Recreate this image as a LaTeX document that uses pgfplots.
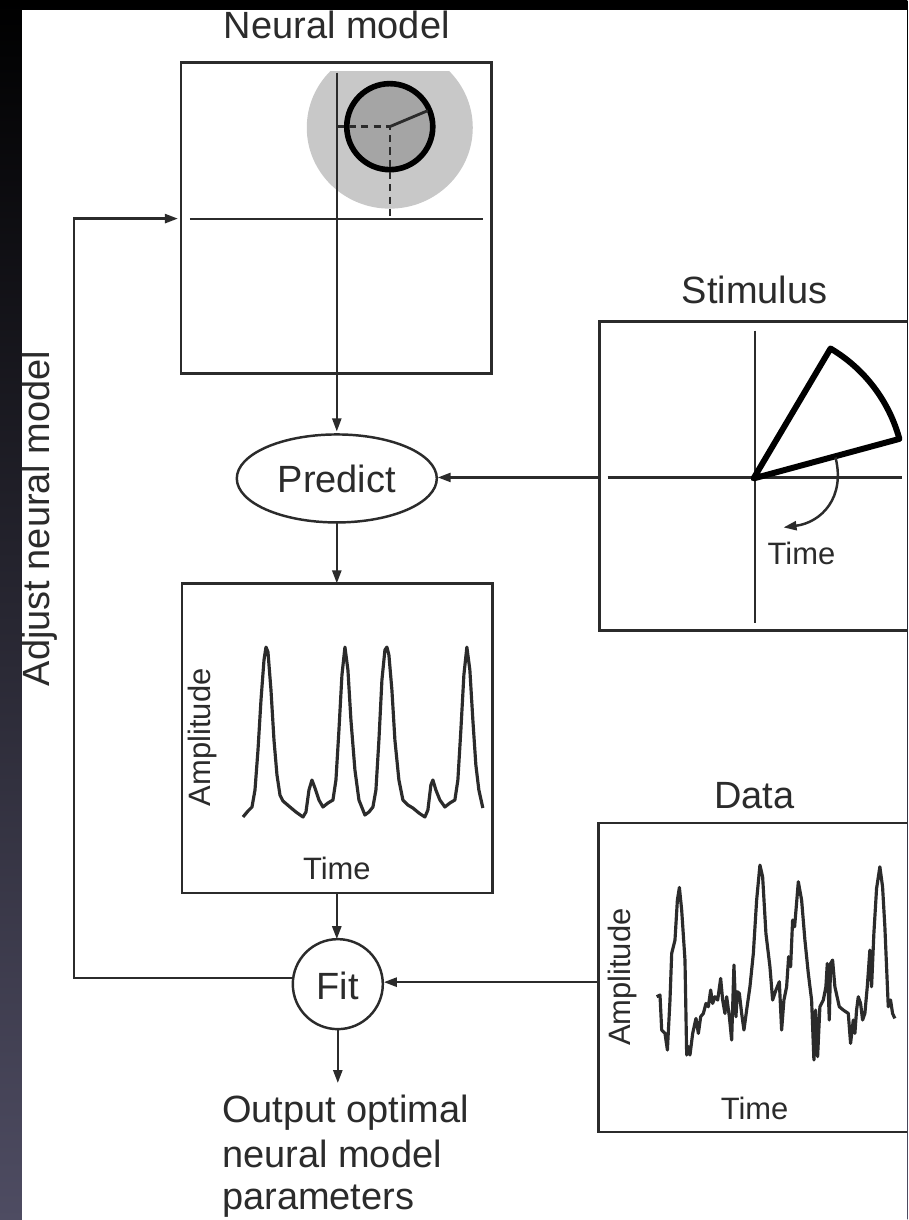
\documentclass[border=0pt]{standalone}
\usepackage{fontspec}
\setmainfont{Liberation Sans}
\usepackage{pgfplots}
\usepackage{pgfplotstable}
\pgfplotsset{compat=1.18}
\usetikzlibrary{arrows.meta}
\definecolor{ink}{HTML}{2B2B2B}
\definecolor{lightg}{HTML}{C8C8C8}
\definecolor{midg}{HTML}{A5A5A5}
\definecolor{bgtop}{HTML}{000000}
\definecolor{bgmid}{HTML}{141430}
\definecolor{bgbot}{HTML}{4E4C62}
\newcommand\bigf{\fontsize{10.8}{13}\selectfont}
\newcommand\smallf{\fontsize{8.8}{10.5}\selectfont}

% model prediction (time, amplitude)
\pgfplotstableread{
t a
0 0
5 6
9 10
12 27
15 67
18 117
21 157
23 170
25 165
28 127
31 77
34 42
37 22
40 16
47 10
53 5
60 0
63 5
66 27
69 37
72 29
76 17
80 10
85 14
90 17
93 37
96 87
99 142
102 170
105 147
108 97
112 47
116 17
122 2
126 5
130 10
133 27
136 77
139 137
142 167
144 170
146 162
149 127
152 77
156 37
160 17
165 12
170 9
176 4
182 0
185 7
188 32
190 37
193 27
197 17
202 10
207 14
212 17
215 37
218 87
221 142
224 170
227 147
230 97
233 52
236 27
240 9
}\modeldata

% measured data (time, amplitude)
\pgfplotstableread{
t a
0 70
3.3 71.7
5 36.7
8.3 33.3
10.7 16.7
13.3 66.7
15 113.3
18.3 126.7
20.7 166.7
22.7 179.3
25 156.7
28.3 106.7
30 11.7
32 20
33.3 11.7
36 33.3
39.3 48.3
41.7 33.3
44 50
46.7 53.3
49.3 63.3
51.7 60
54 76.7
56 63.3
58.3 70
61 66.7
64 88.3
66 66.7
68.3 53.3
70 70
72.7 50
75 26.7
77.3 101.7
79.3 50
80.7 75
82.7 73.3
85 53.3
87.3 36.7
90 56.7
93.3 80
96.7 113.3
100 166.7
103.3 201.7
106 190
109.3 133.3
113.3 100
116 66.7
119.3 76.7
122.7 85
125 36.7
127.3 66.7
130 80
132 110
134 100
136 146.7
138 140
141.7 185
145 166.7
148.3 126.7
151.7 93.3
155 66.7
157.3 6.7
159 56.7
161 10
163.3 60
166.7 66.7
169.3 80
170.7 103.3
172.7 46.7
174 103.3
176 106.7
178.3 80
182.7 60
186.7 56.7
191.7 53.3
194 23.3
196.7 46.7
198.3 33.3
200 56.7
201.7 70
204 63.3
206 46.7
208.3 53.3
210.7 80
213.3 116.7
215 80
217.3 133.3
220 178.3
223.3 200
226 180
228.3 140
231.7 60
234 66.7
236 53.3
238.3 48.3
}\measdata

\begin{document}
\begin{tikzpicture}[>={Triangle[length=0.13cm,width=0.09cm]}]
\begin{axis}[at={(0,0)}, anchor=south west, x=0.01cm, y=0.01cm, y dir=reverse,
  xmin=0, xmax=908, ymin=0, ymax=1220, hide axis, clip=true]
  % background
  \shade[top color=bgtop, middle color=bgmid, bottom color=bgbot] (0,0) rectangle (908,1220);
  \fill[white] (22,9) rectangle (908,1220);

  % Neural model
  \node[font=\bigf, text=ink, anchor=base] at (337,38) {Neural model};
  \begin{scope}
    \clip (183,71) rectangle (490,371);
    \fill[lightg] (390,127) ellipse [x radius=0.83cm, y radius=0.81cm];
  \end{scope}
  \draw[ink, line width=0.7pt] (181,62) rectangle (492,373);
  \draw[ink, line width=0.6pt] (190,218) -- (483,218);
  \draw[ink, line width=0.6pt, ->] (337,72) -- (337,431);
  \draw[black, line width=1.6pt, fill=midg] (390,126) circle [radius=0.43cm];
  \draw[ink, line width=0.7pt, dash pattern=on 2pt off 1.5pt] (337,126) -- (390,126) -- (390,218);
  \draw[ink, line width=0.8pt] (390,126) -- (428,110);

  % feedback loop
  \draw[ink, line width=0.7pt, ->] (293,978) -- (74,978) -- (74,218) -- (178,218);
  \node[font=\bigf, text=ink, rotate=90] at (40,518) {Adjust neural model};

  % Predict
  \draw[ink, line width=0.7pt] (337,478) ellipse [x radius=1.0cm, y radius=0.44cm];
  \node[font=\bigf, text=ink] at (337,478) {Predict};
  \draw[ink, line width=0.7pt, ->] (599,477) -- (438,477);
  \draw[ink, line width=0.7pt, ->] (337,522) -- (337,583);

  % model output box
  \draw[ink, line width=0.7pt] (182,583) rectangle (493,893);
  \node[font=\smallf, text=ink] at (337,868) {Time};
  \node[font=\smallf, text=ink, rotate=90] at (203,737) {Amplitude};
  \draw[ink, line width=0.7pt, ->] (337,893) -- (337,939);

  % Fit
  \draw[ink, line width=0.7pt] (338,984) circle [radius=0.45cm];
  \node[font=\bigf, text=ink] at (338,986) {Fit};
  \draw[ink, line width=0.7pt, ->] (599,982) -- (384,982);
  \draw[ink, line width=0.7pt, ->] (338,1029) -- (338,1083);
  \node[font=\bigf, text=ink, anchor=base west] at (210,1122) {Output optimal};
  \node[font=\bigf, text=ink, anchor=base west] at (210,1167) {neural model};
  \node[font=\bigf, text=ink, anchor=base west] at (210,1209) {parameters};

  % Stimulus
  \node[font=\bigf, text=ink, anchor=base] at (755,303) {Stimulus};
  \draw[ink, line width=0.7pt] (910,321) -- (600,321) -- (600,630) -- (910,630);
  \draw[ink, line width=0.6pt] (755,330) -- (755,623);
  \draw[ink, line width=0.6pt] (608,477) -- (903,477);
  \draw[black, line width=1.7pt, line join=round] (754,478) -- (831,348)
     arc[start angle=59.4, end angle=15.2, radius=1.51cm] -- cycle;
  \draw[ink, line width=0.7pt, ->] (836,457) .. controls (846,497) and (822,522) .. (784,527);
  \node[font=\smallf, text=ink] at (802,553) {Time};

  % Data
  \node[font=\bigf, text=ink, anchor=base] at (755,808) {Data};
  \draw[ink, line width=0.7pt] (910,823) -- (599,823) -- (599,1132) -- (910,1132);
  \node[font=\smallf, text=ink, rotate=90] at (623,977) {Amplitude};
  \node[font=\smallf, text=ink] at (755,1108) {Time};
\end{axis}

% predicted response
\begin{axis}[at={(2.43cm,4.03cm)}, anchor=south west, x=0.01cm, y=0.01cm,
  xmin=0, xmax=240, ymin=0, ymax=170, hide axis, clip=false]
  \addplot[ink, line width=0.9pt, line join=round] table[x=t,y=a] {\modeldata};
\end{axis}

% measured response
\begin{axis}[at={(6.567cm,1.533cm)}, anchor=south west, x=0.01cm, y=0.01cm,
  xmin=0, xmax=238.3, ymin=0, ymax=201.7, hide axis, clip=false]
  \addplot[ink, line width=0.9pt, line join=round] table[x=t,y=a] {\measdata};
\end{axis}

\pgfresetboundingbox
\useasboundingbox (0,0) rectangle (9.08cm,12.2cm);
\end{tikzpicture}
\end{document}
